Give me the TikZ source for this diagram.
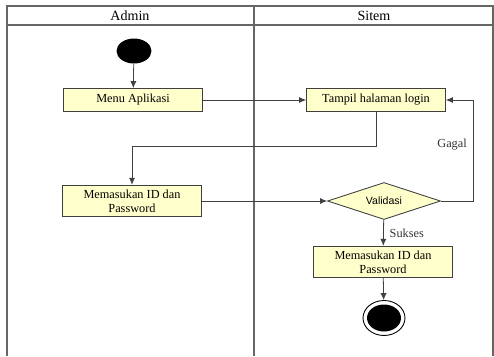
\documentclass[tikz,border=0pt]{standalone}
\usepackage{fontspec}
\setmainfont{Liberation Serif}
\newfontfamily\arialfont{Liberation Sans}
\usetikzlibrary{shapes.geometric,arrows.meta}

\definecolor{actfill}{RGB}{255,255,204}

\begin{document}
\begin{tikzpicture}[x=0.02cm, y=-0.02cm,
  lane/.style={draw=black!60, line width=0.6pt},
  act/.style={draw=black!75, fill=actfill, line width=0.5pt, minimum width=2.78cm,
    minimum height=0.46cm, inner sep=1pt, align=center, font=\fontsize{7}{8}\selectfont},
  tall/.style={minimum height=0.63cm},
  decision/.style={diamond, aspect=3, draw=black!75, fill=actfill, line width=0.5pt,
    minimum width=2.26cm, minimum height=0.74cm, inner sep=0pt, font=\arialfont\fontsize{6}{7}\selectfont},
  flow/.style={draw=black!75, line width=0.45pt, -{Latex[length=4pt,width=3.5pt]}},
  lbl/.style={font=\fontsize{7}{8}\selectfont, text=black!80}]
\useasboundingbox (0,0) rectangle (494,356);
% swimlanes
\draw[lane] (7,356) -- (7,6) -- (493,6) -- (493,356);
\draw[lane] (7,25) -- (493,25);
\draw[lane] (254,6) -- (254,356);
\node[font=\fontsize{8}{9}\selectfont] (admin) at (130,16) {Admin};
\node[font=\fontsize{8}{9}\selectfont] (sistem) at (374,16) {Sitem};

\node[ellipse, fill=black, minimum width=0.7cm, minimum height=0.5cm] (start) at (134,51) {};
\node[act] (menu) at (133,100) {Menu Aplikasi};
\node[act] (login) at (376,100) {Tampil halaman login};
\node[act, tall] (input) at (132,201) {Memasukan ID dan\\Password};
\node[decision] (valid) at (384,201) {Validasi};
\node[act, tall] (input2) at (383,262) {Memasukan ID dan\\Password};
\node[ellipse, draw=black, line width=0.5pt, minimum width=0.84cm, minimum height=0.7cm] (end) at (384,318) {};
\fill (end.center) ellipse [x radius=0.34cm, y radius=0.27cm];

\coordinate (turn) at (376,146);
\coordinate (back) at (473,100);
\draw[flow] (start) -- (menu);
\draw[flow] (menu) -- (login);
\draw[flow] (login) -- (turn) -| (input);
\draw[flow] (input) -- (valid);
\draw[flow] (valid) -| (back) node[pos=0.78, left, lbl]{Gagal} -- (login);
\draw[flow] (valid) -- node[right, lbl]{Sukses} (input2);
\draw[flow] (input2) -- (end);
\end{tikzpicture}
\end{document}
